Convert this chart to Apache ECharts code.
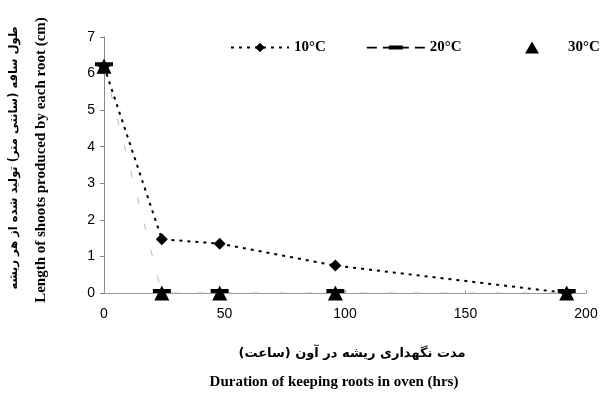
<!DOCTYPE html>
<html>
<head>
<meta charset="utf-8">
<script src="https://cdn.jsdelivr.net/npm/echarts@6/dist/echarts.min.js"></script>
<style>
  html, body { margin: 0; padding: 0; background: #fff; }
  #chart { width: 608px; height: 396px; }
</style>
</head>
<body>
<div id="chart"></div>
<script>
// Hours the roots were kept in the oven
const hours = [0, 24, 48, 96, 192];
// Shoot length (cm) per root at each storage temperature
const len10 = [6.2, 1.47, 1.35, 0.75, 0];
const len20 = [6.2, 0, 0, 0, 0];
const len30 = [6.2, 0, 0, 0, 0];
const seriesNames = ['10°C', '20°C', '30°C'];
const xTicks = [0, 50, 100, 150, 200];
const yTicks = [0, 1, 2, 3, 4, 5, 6, 7];

const pairs = vals => hours.map((h, i) => [h, vals[i]]);

const chart = echarts.init(document.getElementById('chart'));
const serif = '"Liberation Serif", "Times New Roman", serif';
const sans = '"Liberation Sans", Arial, sans-serif';
const legendText = { fontFamily: serif, fontWeight: 'bold', fontSize: 15, color: '#000' };
// legend key for 20°C: dashed stroke with a flat bar in the middle (58 x 12 box)
const dashBarIcon = 'path://M0,0h0.01v0.01h-0.01z M0,12h0.01v-0.01h-0.01z ' +
  'M0,5.3h10v1.6h-10z M16,5.3h8v1.6h-8z M22,4h14v4h-14z M34,5.3h8v1.6h-8z M48,5.3h10v1.6h-10z';

chart.setOption({
  animation: false,
  backgroundColor: '#fff',
  grid: { left: 104, right: 22, top: 37, bottom: 103, containLabel: false },
  legend: [
    {
      left: 225, top: 35,
      itemWidth: 58, itemHeight: 12, itemGap: 41,
      textStyle: legendText,
      data: [
        { name: seriesNames[0] },
        { name: seriesNames[1], icon: dashBarIcon }
      ]
    },
    {
      left: 520, top: 35,
      itemWidth: 14, itemHeight: 12,
      textStyle: Object.assign({ padding: [0, 0, 0, 24] }, legendText),
      data: [{ name: seriesNames[2], icon: 'triangle' }]
    }
  ],
  xAxis: {
    type: 'value', min: xTicks[0], max: xTicks[xTicks.length - 1], interval: 50,
    axisLine: { lineStyle: { color: '#999', width: 1 } },
    axisTick: { show: true, length: 3, inside: true, lineStyle: { color: '#999' } },
    splitLine: { show: false },
    axisLabel: { fontFamily: sans, fontSize: 14, color: '#000', margin: 14 }
  },
  yAxis: {
    type: 'value', min: yTicks[0], max: yTicks[yTicks.length - 1], interval: 1,
    axisLine: { show: true, lineStyle: { color: '#888', width: 1 } },
    axisTick: { show: true, length: 4, lineStyle: { color: '#888' } },
    splitLine: { show: false },
    axisLabel: { fontFamily: sans, fontSize: 14, color: '#000', margin: 9 }
  },
  graphic: [
    { type: 'text', position: [14, 158], rotation: Math.PI / 2,
      style: { text: 'طول ساقه (سانتی متر) تولید شده از هر ریشه', font: 'bold 11.5px "DejaVu Sans"',
               fill: '#000', align: 'center', verticalAlign: 'middle' } },
    { type: 'text', position: [41, 160], rotation: Math.PI / 2,
      style: { text: 'Length of shoots produced by each root (cm)', font: 'bold 15px "Liberation Serif"',
               fill: '#000', align: 'center', verticalAlign: 'middle' } },
    { type: 'text', position: [352, 354],
      style: { text: 'مدت نگهداری ریشه در آون (ساعت)', font: 'bold 13px "DejaVu Sans"',
               fill: '#000', align: 'center', verticalAlign: 'middle' } },
    { type: 'text', position: [334, 382],
      style: { text: 'Duration of keeping roots in oven (hrs)', font: 'bold 15px "Liberation Serif"',
               fill: '#000', align: 'center', verticalAlign: 'middle' } }
  ],
  series: [
    {
      name: seriesNames[0], type: 'line', data: pairs(len10),
      symbol: 'diamond', symbolSize: 12,
      itemStyle: { color: '#000' },
      lineStyle: { color: '#000', width: 2, type: [3, 5] },
      z: 3
    },
    {
      name: seriesNames[1], type: 'line', data: pairs(len20),
      symbol: 'rect', symbolSize: [18, 4], symbolOffset: [0, -2],
      itemStyle: { color: '#000' },
      lineStyle: { color: '#bbb', width: 1, type: [7, 20] },
      z: 4
    },
    {
      name: seriesNames[2], type: 'scatter', data: pairs(len30),
      symbol: 'triangle', symbolSize: 15,
      itemStyle: { color: '#000', opacity: 1 },
      z: 5
    }
  ]
});
</script>
</body>
</html>
